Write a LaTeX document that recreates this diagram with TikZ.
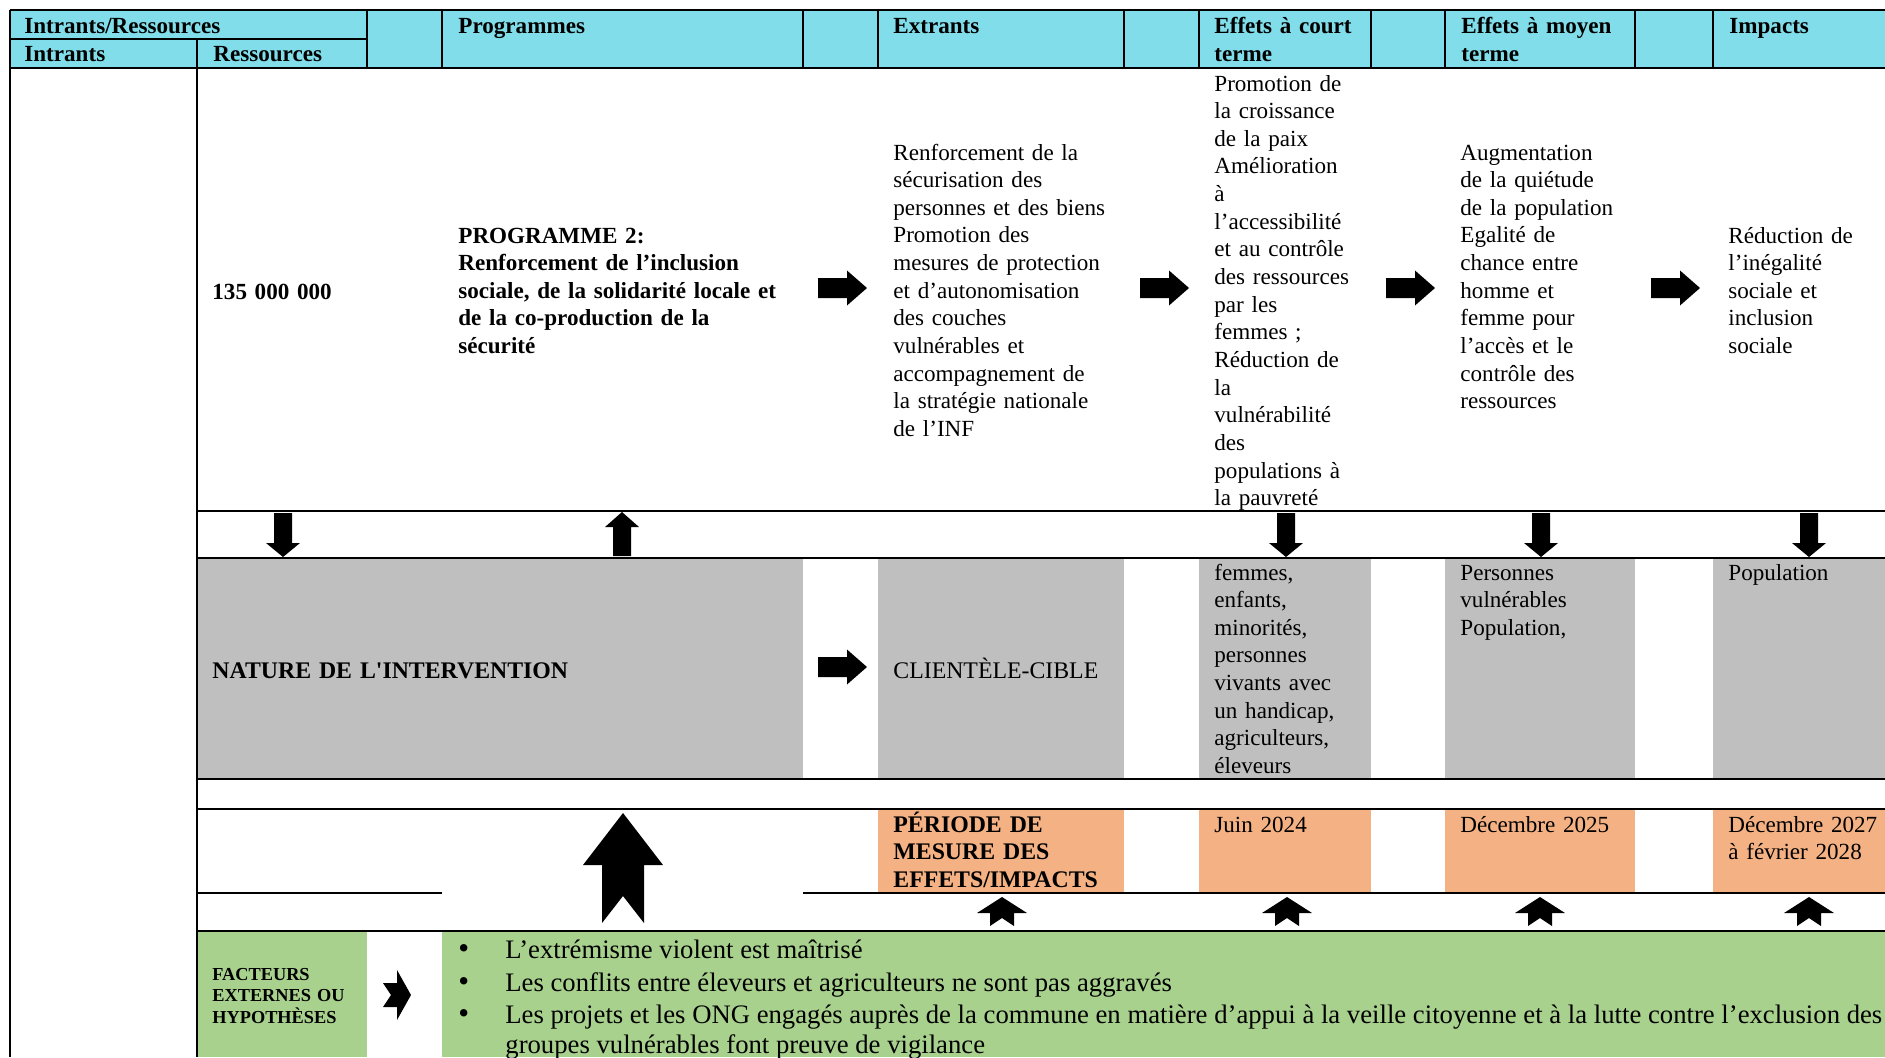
\documentclass[tikz,border=0pt]{standalone}
\usepackage{fontspec}
\setmainfont{Liberation Serif}[Ligatures=TeXOff]
\definecolor{hdr}{HTML}{80DDE9}
\definecolor{gry}{HTML}{BFBFBF}
\definecolor{org}{HTML}{F4B183}
\definecolor{grn}{HTML}{A9D18E}
\begin{document}
\begin{tikzpicture}[x=0.5pt,y=-0.5pt,
 rule/.style={line width=1.3pt},
 tx/.style={anchor=base west, inner sep=0pt, align=left, text width=220pt, font=\fontsize{11.55}{13.83}\selectfont},
 txb/.style={tx, font=\fontsize{11.55}{13.83}\selectfont\bfseries},
 caps/.style={tx, font=\fontsize{11.9}{13.83}\selectfont},
 capsb/.style={tx, font=\fontsize{11.9}{13.83}\selectfont\bfseries},
 hd/.style={tx, font=\fontsize{11.55}{14}\selectfont\bfseries},
 fac/.style={tx, font=\fontsize{9.15}{10.8}\selectfont\bfseries},
 bul/.style={anchor=base west, inner sep=0pt, font=\fontsize{13.35}{15}\selectfont},
 bdot/.style={anchor=base west, inner sep=0pt, font=\fontsize{15.5}{15}\selectfont},
 rarr/.pic={\fill (0,-10) -- (29,-10) -- (29,-17.5) -- (49,0) -- (29,17.5) -- (29,10) -- (0,10) -- cycle;},
 darr/.pic={\fill (-9,0) -- (9,0) -- (9,30) -- (17,30) -- (0,44) -- (-17,30) -- (-9,30) -- cycle;},
 uarr/.pic={\fill (0,0) -- (17,15) -- (9,15) -- (9,44) -- (-9,44) -- (-9,15) -- (-17,15) -- cycle;},
 bigup/.pic={\fill (0,0) -- (40,52) -- (21,52) -- (21,110) -- (0,83) -- (-21,110) -- (-21,52) -- (-40,52) -- cycle;},
 smallup/.pic={\fill (0,0) -- (25,16) -- (12,16) -- (12,29) -- (0,21) -- (-12,29) -- (-12,16) -- (-25,16) -- cycle;},
 notchr/.pic={\fill (0,0) -- (14,25) -- (0,50) -- (0,37) -- (-14,37) -- (-6,25) -- (-14,13) -- (0,13) -- cycle;}
]
\useasboundingbox[fill=white] (0,0) rectangle (1885,1057);

% fills
\fill[hdr] (10,10) rectangle (1885,68);
\fill[gry] (197,558) rectangle (803,779);
\fill[gry] (878,558) rectangle (1124,779);
\fill[gry] (1199,558) rectangle (1371,779);
\fill[gry] (1445,558) rectangle (1635,779);
\fill[gry] (1713,558) rectangle (1885,779);
\fill[org] (878,809) rectangle (1124,893);
\fill[org] (1199,809) rectangle (1371,893);
\fill[org] (1445,809) rectangle (1635,893);
\fill[org] (1713,809) rectangle (1885,893);
\fill[grn] (197,931) rectangle (367,1057);
\fill[grn] (442,931) rectangle (1885,1057);

% rules
\draw[rule] (10,10) -- (1885,10);
\draw[rule] (10,39) -- (367,39);
\draw[rule] (10,68) -- (1885,68);
\foreach \xx in {367,442,803,878,1124,1199,1371,1445,1635,1713}
  \draw[rule] (\xx,10) -- (\xx,68);
\draw[rule] (10,10) -- (10,1057);
\draw[rule] (197,39) -- (197,1057);
\draw[rule] (197,511) -- (1885,511);
\draw[rule] (197,558) -- (1885,558);
\draw[rule] (197,779) -- (1885,779);
\draw[rule] (197,809) -- (1885,809);
\draw[rule] (197,893) -- (442,893);
\draw[rule] (803,893) -- (1885,893);
\draw[rule] (197,931) -- (1885,931);

% header
\node[hd] (h1) at (24,33) {Intrants/Ressources};
\node[hd] (h2) at (24,61) {Intrants};
\node[hd] (h3) at (213,61) {Ressources};
\node[hd] (h4) at (458,33) {Programmes};
\node[hd] (h5) at (893,33) {Extrants};
\node[hd] (h6) at (1214,33) {Effets à court\\terme};
\node[hd] (h7) at (1461,33) {Effets à moyen\\terme};
\node[hd] (h8) at (1729,33) {Impacts};

% row 1
\node[txb] (res) at (212,299) {135 000 000};
\node[txb] (prog) at (458,243) {PROGRAMME 2:\\Renforcement de l’inclusion\\sociale, de la solidarité locale et\\de la co-production de la\\sécurité};
\node[tx] (ext) at (893,160) {Renforcement de la\\sécurisation des\\personnes et des biens\\Promotion des\\mesures de protection\\et d’autonomisation\\des couches\\vulnérables et\\accompagnement de\\la stratégie nationale\\de l’INF};
\node[tx] (ecourt) at (1214,91) {Promotion de\\la croissance\\de la paix\\Amélioration\\à\\l’accessibilité\\et au contrôle\\des ressources\\par les\\femmes ;\\Réduction de\\la\\vulnérabilité\\des\\populations à\\la pauvreté};
\node[tx] (emoyen) at (1460,160) {Augmentation\\de la quiétude\\de la population\\Egalité de\\chance entre\\homme et\\femme pour\\l’accès et le\\contrôle des\\ressources};
\node[tx] (imp) at (1728,243) {Réduction de\\l’inégalité\\sociale et\\inclusion\\sociale};

\pic (ra1) at (818,288) {rarr};
\pic (ra2) at (1140,288) {rarr};
\pic (ra3) at (1386,288) {rarr};
\pic (ra4) at (1651,288) {rarr};

% row 2 arrows
\pic (da1) at (283,513) {darr};
\pic (ua1) at (622,512) {uarr};
\pic (da2) at (1286,513) {darr};
\pic (da3) at (1541,513) {darr};
\pic (da4) at (1809,513) {darr};

% gray row
\node[capsb] (nat) at (212,678) {NATURE DE L'INTERVENTION};
\pic (ra5) at (818,667) {rarr};
\node[caps] (cli) at (893,678) {CLIENTÈLE-CIBLE};
\node[tx] (cl1) at (1214,580) {femmes,\\enfants,\\minorités,\\personnes\\vivants avec\\un handicap,\\agriculteurs,\\éleveurs};
\node[tx] (cl2) at (1460,580) {Personnes\\vulnérables\\Population,};
\node[tx] (cl3) at (1728,580) {Population};

% orange row
\node[capsb] (per) at (893,832) {PÉRIODE DE\\MESURE DES\\EFFETS/IMPACTS};
\node[tx] (d1) at (1214,832) {Juin 2024};
\node[tx] (d2) at (1460,832) {Décembre 2025};
\node[tx] (d3) at (1728,832) {Décembre 2027\\à février 2028};
\pic (bu) at (623,813) {bigup};

% small up arrows
\pic (su1) at (1002,897) {smallup};
\pic (su2) at (1287,897) {smallup};
\pic (su3) at (1540,897) {smallup};
\pic (su4) at (1809,897) {smallup};

% green row
\node[fac] (fac) at (212,980) {FACTEURS\\EXTERNES OU\\HYPOTHÈSES};
\pic (nr) at (397,970) {notchr};
\node[bdot] (b1) at (458,958) {•};
\node[bdot] (b2) at (458,991) {•};
\node[bdot] (b3) at (458,1023) {•};
\node[bul] (t1) at (505,958) {L’extrémisme violent est maîtrisé};
\node[bul] (t2) at (505,991) {Les conflits entre éleveurs et agriculteurs ne sont pas aggravés};
\node[bul] (t3) at (505,1023) {Les projets et les ONG engagés auprès de la commune en matière d’appui à la veille citoyenne et à la lutte contre l’exclusion des};
\node[bul] (t4) at (505,1053) {groupes vulnérables font preuve de vigilance};
\end{tikzpicture}
\end{document}
